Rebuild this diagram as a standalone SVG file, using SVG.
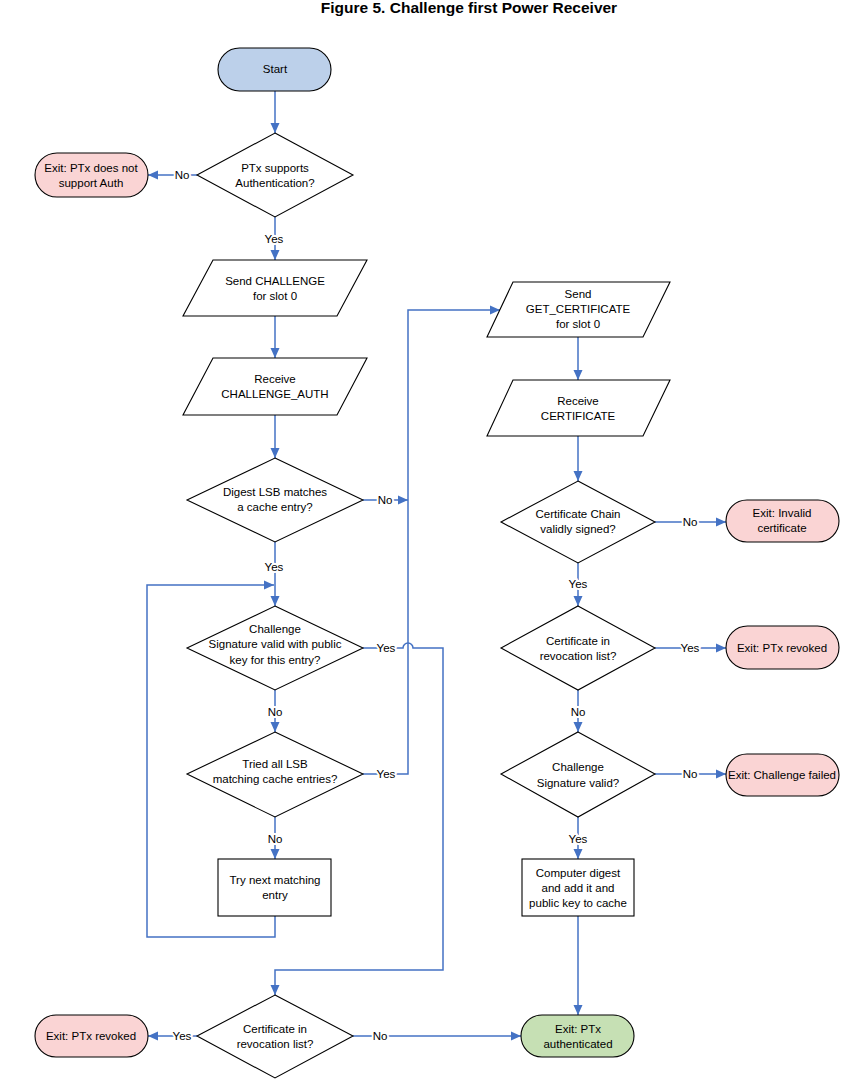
<svg xmlns="http://www.w3.org/2000/svg" width="848" height="1087" viewBox="0 0 848 1087">
<style>
text{font-family:"Liberation Sans",Arial,sans-serif;font-size:11.5px;fill:#000;text-anchor:middle}
.title{font-size:15.5px;font-weight:bold}
.shape{stroke:#000;stroke-width:1.1;fill:#fff}
.start{fill:#BCD0EA}
.exit{fill:#FAD4D4}
.ok{fill:#C6E0B4}
.c{fill:none;stroke:#4472C4;stroke-width:1.5}
.lbl{stroke:#fff;stroke-width:4;paint-order:stroke;stroke-linejoin:round}
</style>
<defs>
<marker id="ah" markerUnits="userSpaceOnUse" markerWidth="10" markerHeight="10" viewBox="0 0 10 10" refX="10" refY="5" orient="auto">
<path d="M0,0.5 L10,5 L0,9.5 Z" fill="#4472C4"/>
</marker>
</defs>
<rect width="848" height="1087" fill="#fff"/>
<text class="title" x="469" y="13">Figure 5. Challenge first Power Receiver</text>

<g id="connectors">
<path class="c" d="M275,91 V133" marker-end="url(#ah)"/>
<path class="c" d="M197,175 H148" marker-end="url(#ah)"/>
<path class="c" d="M275,217 V260" marker-end="url(#ah)"/>
<path class="c" d="M275,316 V358" marker-end="url(#ah)"/>
<path class="c" d="M275,415 V458" marker-end="url(#ah)"/>
<path class="c" d="M363,500 H408" marker-end="url(#ah)"/>
<path class="c" d="M363,774 H408 V310 H500" marker-end="url(#ah)"/>
<path class="c" d="M275,542 V606" marker-end="url(#ah)"/>
<path class="c" d="M275,916 V937 H147 V585 H274" marker-end="url(#ah)"/>
<path class="c" d="M363,648 H403 A5,5 0 0 1 413,648 H443 V970 H275 V995" marker-end="url(#ah)"/>
<path class="c" d="M275,690 V732" marker-end="url(#ah)"/>
<path class="c" d="M275,817 V859" marker-end="url(#ah)"/>
<path class="c" d="M578,337 V380" marker-end="url(#ah)"/>
<path class="c" d="M578,436 V481" marker-end="url(#ah)"/>
<path class="c" d="M655,522 H726" marker-end="url(#ah)"/>
<path class="c" d="M578,563 V606" marker-end="url(#ah)"/>
<path class="c" d="M655,648 H726" marker-end="url(#ah)"/>
<path class="c" d="M578,690 V732" marker-end="url(#ah)"/>
<path class="c" d="M655,774 H726" marker-end="url(#ah)"/>
<path class="c" d="M578,817 V859" marker-end="url(#ah)"/>
<path class="c" d="M578,916 V1015" marker-end="url(#ah)"/>
<path class="c" d="M197,1036 H148" marker-end="url(#ah)"/>
<path class="c" d="M353,1036 H521" marker-end="url(#ah)"/>
<g id="labels">
<text class="lbl" x="182" y="179">No</text>
<text class="lbl" x="274" y="243">Yes</text>
<text class="lbl" x="385" y="504">No</text>
<text class="lbl" x="274" y="571">Yes</text>
<text class="lbl" x="386" y="652">Yes</text>
<text class="lbl" x="275" y="716">No</text>
<text class="lbl" x="386" y="778">Yes</text>
<text class="lbl" x="275" y="843">No</text>
<text class="lbl" x="690" y="526">No</text>
<text class="lbl" x="578" y="588">Yes</text>
<text class="lbl" x="690" y="652">Yes</text>
<text class="lbl" x="578" y="716">No</text>
<text class="lbl" x="690" y="778">No</text>
<text class="lbl" x="578" y="843">Yes</text>
<text class="lbl" x="182" y="1040">Yes</text>
<text class="lbl" x="380" y="1040">No</text>
</g>
</g>

<g id="start"><rect class="shape start" x="218" y="48" width="113" height="43" rx="21.5"/><text x="275" y="73">Start</text></g>

<g id="d_supports"><polygon class="shape" points="275,133 353,175 275,217 197,175"/><text x="275" y="172">PTx supports</text><text x="275" y="187">Authentication?</text></g>
<g id="exit_noauth"><rect class="shape exit" x="35" y="153" width="113" height="44" rx="22"/><text x="91" y="172">Exit: PTx does not</text><text x="91" y="187">support Auth</text></g>

<g id="send_challenge"><polygon class="shape" points="213,260 367,260 337,316 183,316"/><text x="275" y="285">Send CHALLENGE</text><text x="275" y="300">for slot 0</text></g>
<g id="recv_challenge_auth"><polygon class="shape" points="213,358 367,358 337,415 183,415"/><text x="275" y="383">Receive</text><text x="275" y="398">CHALLENGE_AUTH</text></g>

<g id="d_digest"><polygon class="shape" points="275,458 363,500 275,542 187,500"/><text x="275" y="496">Digest LSB matches</text><text x="275" y="511">a cache entry?</text></g>
<g id="d_sigvalid_entry"><polygon class="shape" points="275,606 363,648 275,690 187,648"/><text x="275" y="633">Challenge</text><text x="275" y="648">Signature valid with public</text><text x="275" y="664">key for this entry?</text></g>
<g id="d_tried_all"><polygon class="shape" points="275,732 363,774 275,817 187,774"/><text x="275" y="768">Tried all LSB</text><text x="275" y="783">matching cache entries?</text></g>
<g id="try_next"><rect class="shape" x="218" y="859" width="113" height="57"/><text x="275" y="884">Try next matching</text><text x="275" y="899">entry</text></g>

<g id="d_cert_revoked_bottom"><polygon class="shape" points="275,995 353,1036 275,1078 197,1036"/><text x="275" y="1033">Certificate in</text><text x="275" y="1048">revocation list?</text></g>
<g id="exit_revoked_bottom"><rect class="shape exit" x="35" y="1015" width="113" height="42" rx="21"/><text x="91" y="1040">Exit: PTx revoked</text></g>
<g id="exit_authenticated"><rect class="shape ok" x="521" y="1015" width="113" height="42" rx="21"/><text x="578" y="1033">Exit: PTx</text><text x="578" y="1048">authenticated</text></g>

<g id="send_get_cert"><polygon class="shape" points="513,282 670,282 643,337 487,337"/><text x="578" y="298">Send</text><text x="578" y="313">GET_CERTIFICATE</text><text x="578" y="328">for slot 0</text></g>
<g id="recv_cert"><polygon class="shape" points="513,380 670,380 643,436 487,436"/><text x="578" y="405">Receive</text><text x="578" y="420">CERTIFICATE</text></g>

<g id="d_chain"><polygon class="shape" points="578,481 655,522 578,563 501,522"/><text x="578" y="518">Certificate Chain</text><text x="578" y="533">validly signed?</text></g>
<g id="exit_invalid"><rect class="shape exit" x="726" y="500" width="113" height="42" rx="21"/><text x="782" y="517">Exit: Invalid</text><text x="782" y="532">certificate</text></g>

<g id="d_cert_revoked"><polygon class="shape" points="578,606 655,648 578,690 501,648"/><text x="578" y="645">Certificate in</text><text x="578" y="660">revocation list?</text></g>
<g id="exit_revoked"><rect class="shape exit" x="726" y="626" width="113" height="43" rx="21.5"/><text x="782" y="652">Exit: PTx revoked</text></g>

<g id="d_sigvalid"><polygon class="shape" points="578,732 655,774 578,817 501,774"/><text x="578" y="771">Challenge</text><text x="578" y="787">Signature valid?</text></g>
<g id="exit_chfailed"><rect class="shape exit" x="726" y="754" width="113" height="42" rx="21"/><text x="782" y="779">Exit: Challenge failed</text></g>

<g id="compute_digest"><rect class="shape" x="522" y="859" width="112" height="57"/><text x="578" y="877">Computer digest</text><text x="578" y="892">and add it and</text><text x="578" y="907">public key to cache</text></g>
</svg>
